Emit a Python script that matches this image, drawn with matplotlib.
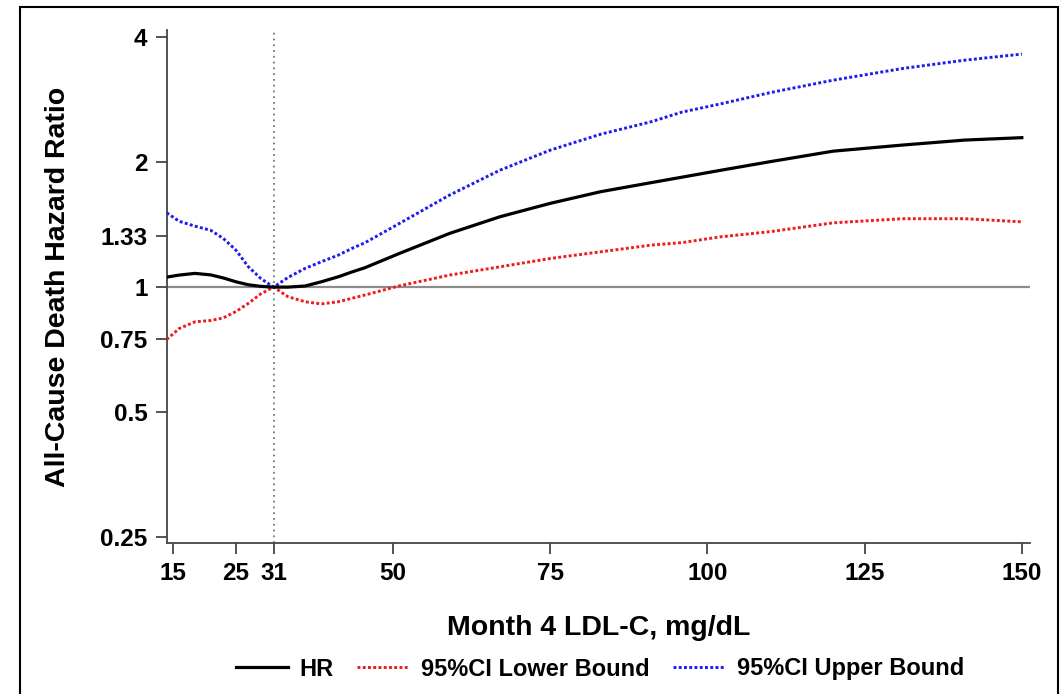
import matplotlib
matplotlib.use('Agg')
import matplotlib.pyplot as plt
from matplotlib.patches import Rectangle
from matplotlib.ticker import FixedLocator, NullLocator

plt.rcParams['font.family'] = ['Liberation Sans', 'DejaVu Sans']
plt.rcParams['font.weight'] = 'bold'

# values
ldl = [14, 16, 18.5, 21, 23, 25, 27, 29, 31, 33.3, 36, 38.6, 41.3, 43.5, 45.5,
       51, 59, 67, 75, 83, 91, 96, 102, 110, 120, 131, 141, 150]
hr = [1.057, 1.069, 1.079, 1.07, 1.052, 1.03, 1.013, 1.004, 1.0, 1.0, 1.006,
      1.03, 1.059, 1.088, 1.113, 1.205, 1.347, 1.477, 1.591, 1.697, 1.784,
      1.84, 1.91, 2.005, 2.125, 2.198, 2.26, 2.29]
ci_low = [0.748, 0.795, 0.825, 0.831, 0.843, 0.873, 0.914, 0.964, 1.0, 0.948,
          0.922, 0.911, 0.922, 0.94, 0.957, 1.007, 1.069, 1.119, 1.172, 1.216,
          1.262, 1.28, 1.321, 1.36, 1.428, 1.461, 1.461, 1.436]
ci_up = [1.51, 1.44, 1.402, 1.37, 1.31, 1.228, 1.119, 1.048, 1.0, 1.055,
         1.109, 1.151, 1.194, 1.24, 1.278, 1.423, 1.666, 1.912, 2.137, 2.334,
         2.5, 2.64, 2.76, 2.94, 3.15, 3.36, 3.52, 3.64]

x_ticks = [15, 25, 31, 50, 75, 100, 125, 150]
y_ticks = [0.25, 0.5, 0.75, 1, 1.33, 2, 4]
y_labels = ['0.25', '0.5', '0.75', '1', '1.33', '2', '4']
ref_ldl = 31

fig = plt.figure(figsize=(10.62, 6.94), dpi=100)
ax = fig.add_axes([167/1062, 1 - 543/694, (1030-167)/1062, (543-30)/694])

ax.axhline(1, color='#8c8c8c', lw=1.6, zorder=1)
ax.axvline(ref_ldl, color='#777777', lw=1.3, dashes=(1, 2.2), zorder=1)

ax.plot(ldl, hr, color='black', lw=2.3, label='HR', zorder=4)
ax.plot(ldl, ci_low, color='#ee1c1c', lw=2.1, dashes=(1, 0.8),
        label='95%CI Lower Bound', zorder=3)
ax.plot(ldl, ci_up, color='#1c1cee', lw=2.1, dashes=(1, 0.8),
        label='95%CI Upper Bound', zorder=3)

ax.set_yscale('log')
ax.set_xlim(14.05, 151.3)
ax.set_ylim(0.242, 4.16)
ax.yaxis.set_major_locator(FixedLocator(y_ticks))
ax.yaxis.set_minor_locator(NullLocator())
ax.set_yticklabels(y_labels)
ax.set_xticks(x_ticks)

for s in ['top', 'right']:
    ax.spines[s].set_visible(False)
for s in ['left', 'bottom']:
    ax.spines[s].set_color('#444444')
    ax.spines[s].set_linewidth(1.3)
ax.tick_params(axis='both', length=8, width=1.3, color='#444444',
               labelsize=17.5, pad=6)

ax.set_xlabel('Month 4 LDL-C, mg/dL', fontsize=20.5, fontweight='bold', labelpad=21)
ax.set_ylabel('All-Cause Death Hazard Ratio', fontsize=20.5, fontweight='bold', labelpad=21)

fig.legend(loc='center', bbox_to_anchor=(600/1062, 1 - 669/694), ncol=3,
           frameon=False, fontsize=17, handlelength=2.2, columnspacing=1.0,
           handletextpad=0.5)

fig.patches.append(Rectangle((20/1062, -0.05), (1058-20)/1062, 1.05 - 7/694,
                             transform=fig.transFigure, fill=False,
                             edgecolor='black', lw=1.5))

plt.savefig('out.png', dpi=100)
